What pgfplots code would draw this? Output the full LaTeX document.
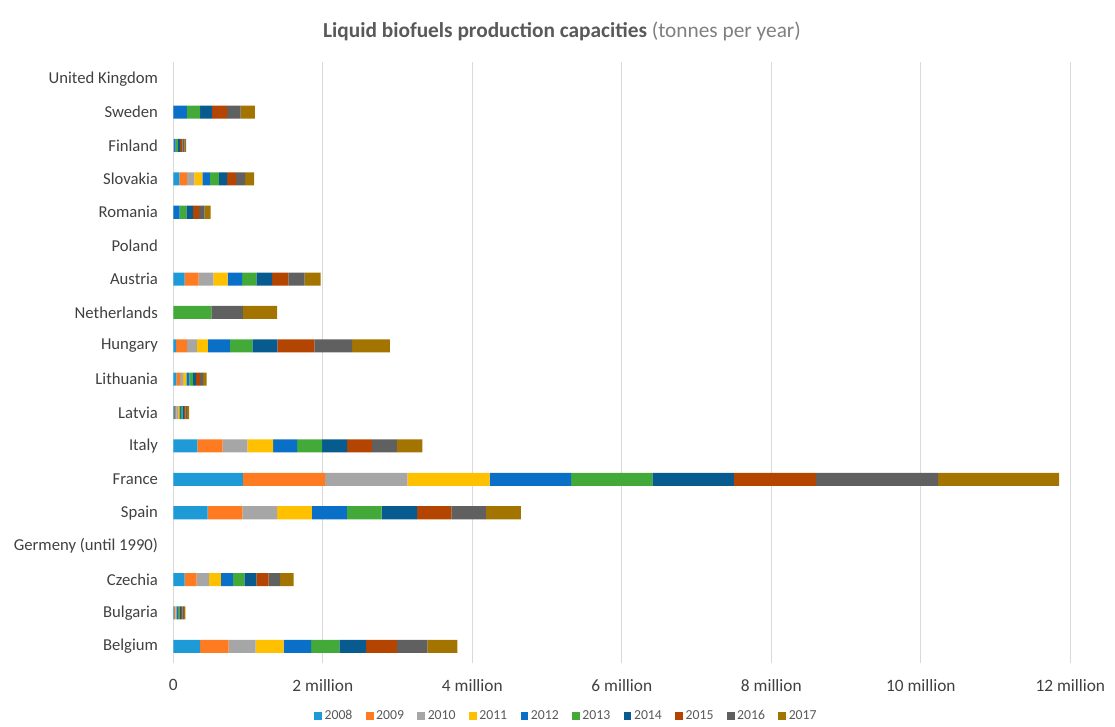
\documentclass[border=0pt]{standalone}
\usepackage{fontspec}
\setmainfont{Carlito}
\usepackage{pgfplots}
\pgfplotsset{compat=1.18}
\usepackage{pgfplotstable}

% series colours
\definecolor{c08}{HTML}{1E9BD7}
\definecolor{c09}{HTML}{FF7B22}
\definecolor{c10}{HTML}{A6A6A6}
\definecolor{c11}{HTML}{FFC000}
\definecolor{c12}{HTML}{0A6FC6}
\definecolor{c13}{HTML}{43AA3A}
\definecolor{c14}{HTML}{075B8F}
\definecolor{c15}{HTML}{B44500}
\definecolor{c16}{HTML}{606060}
\definecolor{c17}{HTML}{A37400}
\definecolor{gridgray}{HTML}{D9D9D9}
\definecolor{labelgray}{HTML}{404040}
\definecolor{titlegray}{HTML}{595959}
\definecolor{subgray}{HTML}{7F7F7F}

% capacities in million tonnes per year; idx 0 = Belgium ... 17 = United Kingdom
\pgfplotstableread{
idx y2008 y2009 y2010 y2011 y2012 y2013 y2014 y2015 y2016 y2017
0   0.36  0.38  0.36  0.375 0.37  0.375 0.36  0.41  0.41  0.40
1   0.01  0.01  0.01  0.01  0.02  0.02  0.02  0.02  0.02  0.02
2   0.15  0.16  0.165 0.16  0.16  0.155 0.16  0.165 0.155 0.18
3   0     0     0     0     0     0     0     0     0     0
4   0.46  0.465 0.465 0.465 0.465 0.465 0.475 0.46  0.46  0.47
5   0.93  1.10  1.10  1.10  1.09  1.09  1.09  1.10  1.63  1.62
6   0.32  0.34  0.33  0.345 0.32  0.335 0.335 0.33  0.335 0.34
7   0.02  0.02  0.02  0.02  0.02  0.02  0.02  0.02  0.02  0.03
8   0.04  0.05  0.04  0.045 0.04  0.045 0.045 0.05  0.045 0.045
9   0.036 0.15  0.13  0.145 0.295 0.30  0.335 0.495 0.505 0.505
10  0     0     0     0     0     0.51  0     0     0.42  0.46
11  0.15  0.19  0.195 0.19  0.195 0.19  0.21  0.22  0.215 0.215
12  0     0     0     0     0     0     0     0     0     0
13  0     0     0     0     0.085 0.09  0.09  0.08  0.075 0.08
14  0.08  0.10  0.10  0.11  0.10  0.12  0.11  0.12  0.12  0.12
15  0     0     0.01  0     0.02  0.03  0.03  0.03  0.03  0.02
16  0     0     0     0     0.18  0.18  0.16  0.20  0.18  0.19
17  0     0     0     0     0     0     0     0     0     0
}\capacities

\begin{document}
\begin{tikzpicture}
\begin{axis}[
  scale only axis,
  width=672.75pt, height=450.75pt,
  clip=false,
  xbar stacked,
  bar width=0.39,
  xmin=0, xmax=12,
  ymin=-0.5, ymax=17.5,
  xtick={0,2,4,6,8,10,12},
  xticklabels={0,2 million,4 million,6 million,8 million,10 million,12 million},
  ytick={0,...,17},
  yticklabels={Belgium,Bulgaria,Czechia,Germeny (until 1990),Spain,France,Italy,Latvia,Lithuania,Hungary,Netherlands,Austria,Poland,Romania,Slovakia,Finland,Sweden,United Kingdom},
  axis line style={draw=none},
  tick style={draw=none},
  xmajorgrids,
  grid style={color=gridgray, line width=0.9pt},
  xticklabel style={font=\fontsize{13}{15}\selectfont, text=labelgray, yshift=-9pt},
  yticklabel style={font=\fontsize{12.5}{15}\selectfont, text=labelgray, xshift=-8pt},
  legend columns=10,
  legend style={
    at={(0.4386,-0.088)}, anchor=center,
    draw=none, fill=none,
    font=\fontsize{10.3}{12}\selectfont,
    text=titlegray,
    /tikz/every even column/.append style={column sep=8pt},
    /tikz/every odd column/.append style={column sep=0pt},
  },
  legend image code/.code={\path[#1,draw=none] (0pt,-2.9pt) rectangle (5.8pt,2.9pt);},
  every axis plot/.append style={draw=none},
]
\addplot[fill=c08] table[x=y2008, y=idx] {\capacities};
\addplot[fill=c09] table[x=y2009, y=idx] {\capacities};
\addplot[fill=c10] table[x=y2010, y=idx] {\capacities};
\addplot[fill=c11] table[x=y2011, y=idx] {\capacities};
\addplot[fill=c12] table[x=y2012, y=idx] {\capacities};
\addplot[fill=c13] table[x=y2013, y=idx] {\capacities};
\addplot[fill=c14] table[x=y2014, y=idx] {\capacities};
\addplot[fill=c15] table[x=y2015, y=idx] {\capacities};
\addplot[fill=c16] table[x=y2016, y=idx] {\capacities};
\addplot[fill=c17] table[x=y2017, y=idx] {\capacities};
\legend{2008,2009,2010,2011,2012,2013,2014,2015,2016,2017}

\node[anchor=center, font=\fontsize{16}{19}\selectfont] at (rel axis cs:0.4333,1.0516)
  {\textcolor{titlegray}{\textbf{Liquid biofuels production capacities}} \textcolor{subgray}{(tonnes per year)}};
\coordinate (plotSW) at (rel axis cs:0,0);
\end{axis}
\pgfresetboundingbox
\path[use as bounding box] (plotSW) ++(-130pt,-47.25pt) rectangle ++(836.25pt,544.5pt);
\end{tikzpicture}
\end{document}
